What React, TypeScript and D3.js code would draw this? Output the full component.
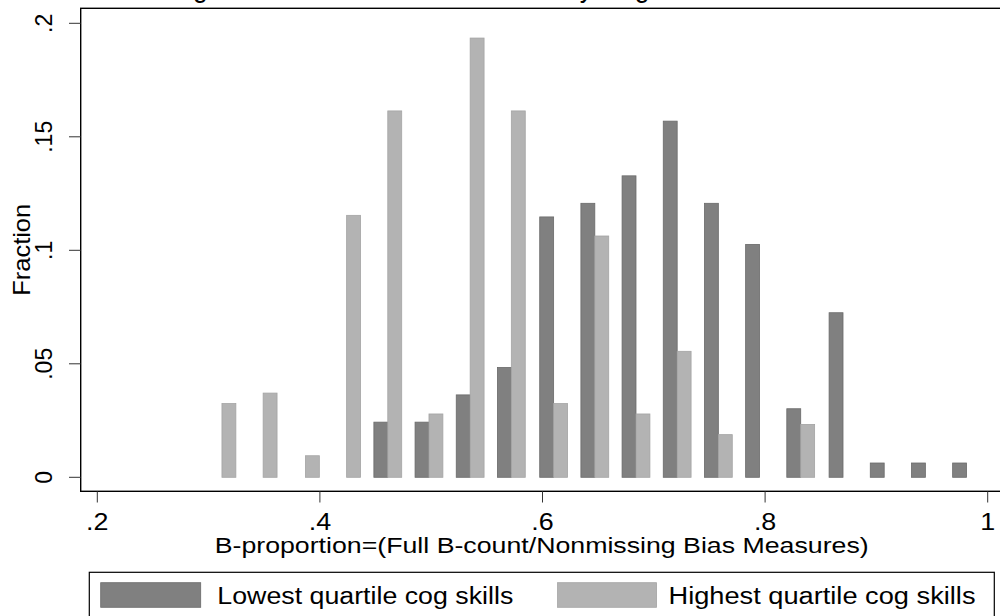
import React from "react";
import * as d3 from "d3";

// Bin centres (B-proportion)
const binCenters: number[] = [
  0.312, 0.349, 0.387, 0.424, 0.461, 0.498, 0.535, 0.572, 0.610, 0.647,
  0.684, 0.721, 0.758, 0.795, 0.832, 0.870, 0.907, 0.944, 0.981,
];
// Fraction, lowest quartile cog skills (dark bars)
const lowestQuartile: number[] = [
  0, 0, 0, 0, 0.0243, 0.0243, 0.0363, 0.0484, 0.1147, 0.1207,
  0.1328, 0.1569, 0.1207, 0.1026, 0.0302, 0.0725, 0.0063, 0.0063, 0.0063,
];
// Fraction, highest quartile cog skills (light bars)
const highestQuartile: number[] = [
  0.0325, 0.0371, 0.0095, 0.1154, 0.1614, 0.0279, 0.1935, 0.1614, 0.0325, 0.1063,
  0.0279, 0.0555, 0.0188, 0, 0.0233, 0, 0, 0, 0,
];
const xTicks: number[] = [0.2, 0.4, 0.6, 0.8, 1];
const xTickLabels: string[] = [".2", ".4", ".6", ".8", "1"];
const yTicks: number[] = [0, 0.05, 0.1, 0.15, 0.2];
const yTickLabels: string[] = ["0", ".05", ".1", ".15", ".2"];
const seriesNames: string[] = ["Lowest quartile cog skills", "Highest quartile cog skills"];
const titleText = "Histogram of the Full B-count Share by Cognitive Skills";
const xTitle = "B-proportion=(Full B-count/Nonmissing Bias Measures)";
const yTitle = "Fraction";

const FONT = "'Liberation Sans', Arial, Helvetica, sans-serif";
const DARK_FILL = "#808080";
const DARK_STROKE = "#6a6a6a";
const LIGHT_FILL = "#b3b3b3";
const LIGHT_STROKE = "#a4a4a4";
const HALF_BIN = 0.0125;

export default function App() {
  const x = d3.scaleLinear().domain([0.2, 1]).range([97.3, 987.7]);
  const y = d3.scaleLinear().domain([0, 0.2]).range([477.3, 23.3]);

  const frame = { left: 80.7, top: 8.3, right: 1004, bottom: 491.3 };

  return (
    <svg
      width={1000}
      height={616}
      style={{ position: "absolute", left: 0, top: 0, background: "#fff" }}
      fontFamily={FONT}
    >
      <rect x={0} y={0} width={1000} height={616} fill="#fff" />
      {/* title, mostly cut off at the top (as in the reference) */}
      <text x={132} y={-2.6} fontSize={30} textLength={650} lengthAdjust="spacingAndGlyphs" fill="#000">
        {titleText}
      </text>

      {/* bars */}
      {binCenters.map((c, i) =>
        lowestQuartile[i] > 0 ? (
          <rect
            key={"d" + i}
            x={x(c - HALF_BIN)}
            y={y(lowestQuartile[i])}
            width={x(c) - x(c - HALF_BIN)}
            height={y(0) - y(lowestQuartile[i])}
            fill={DARK_FILL}
            stroke={DARK_STROKE}
            strokeWidth={0.8}
          />
        ) : null
      )}
      {binCenters.map((c, i) =>
        highestQuartile[i] > 0 ? (
          <rect
            key={"l" + i}
            x={x(c)}
            y={y(highestQuartile[i])}
            width={x(c + HALF_BIN) - x(c)}
            height={y(0) - y(highestQuartile[i])}
            fill={LIGHT_FILL}
            stroke={LIGHT_STROKE}
            strokeWidth={0.8}
          />
        ) : null
      )}

      {/* plot frame */}
      <rect
        x={frame.left}
        y={frame.top}
        width={frame.right - frame.left}
        height={frame.bottom - frame.top}
        fill="none"
        stroke="#000"
        strokeWidth={1.4}
      />

      {/* y axis ticks and labels */}
      {yTicks.map((t, i) => (
        <g key={"yt" + i}>
          <line x1={69} x2={frame.left} y1={y(t)} y2={y(t)} stroke="#333" strokeWidth={1} />
          <text
            transform={`translate(52,${y(t)}) rotate(-90)`}
            textAnchor="middle"
            fontSize={23}
            fill="#000"
          >
            {yTickLabels[i]}
          </text>
        </g>
      ))}
      <text
        transform={`translate(30,${(frame.top + frame.bottom) / 2}) rotate(-90)`}
        textAnchor="middle"
        fontSize={24}
        textLength={92}
        lengthAdjust="spacingAndGlyphs"
        fill="#000"
      >
        {yTitle}
      </text>

      {/* x axis ticks and labels */}
      {xTicks.map((t, i) => (
        <g key={"xt" + i}>
          <line x1={x(t)} x2={x(t)} y1={frame.bottom} y2={502.5} stroke="#333" strokeWidth={1} />
          <text
            transform={`translate(${x(t)},530) scale(1.12,1)`}
            textAnchor="middle"
            fontSize={24}
            fill="#000"
          >
            {xTickLabels[i]}
          </text>
        </g>
      ))}
      <text
        x={214.7}
        y={553}
        fontSize={21.5}
        textLength={654}
        lengthAdjust="spacingAndGlyphs"
        fill="#000"
      >
        {xTitle}
      </text>

      {/* legend */}
      <rect x={89.3} y={572.3} width={905} height={50} fill="#fff" stroke="#000" strokeWidth={1.2} />
      <rect x={100.7} y={582.7} width={100} height={24.6} fill={DARK_FILL} stroke={DARK_STROKE} strokeWidth={0.8} />
      <text x={217.3} y={603.5} fontSize={23} textLength={296} lengthAdjust="spacingAndGlyphs" fill="#000">
        {seriesNames[0]}
      </text>
      <rect x={557.6} y={582.7} width={99} height={24.6} fill={LIGHT_FILL} stroke={LIGHT_STROKE} strokeWidth={0.8} />
      <text x={668.5} y={603.5} fontSize={23} textLength={307} lengthAdjust="spacingAndGlyphs" fill="#000">
        {seriesNames[1]}
      </text>
    </svg>
  );
}
